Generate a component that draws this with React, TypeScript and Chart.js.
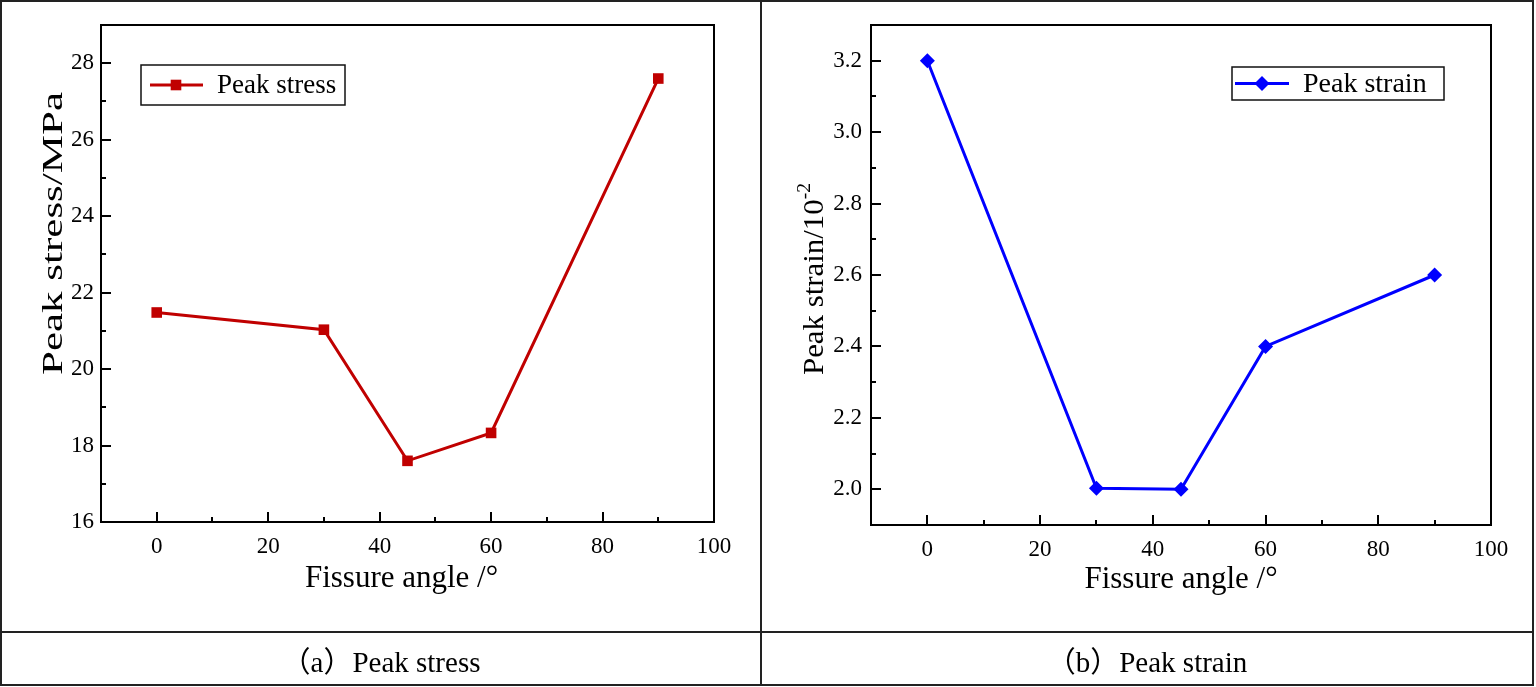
import React, { useEffect, useRef } from "react";
import { Chart, registerables } from "chart.js";

Chart.register(...registerables);

// ---------------- data ----------------
const fissureAngles = [0, 30, 45, 60, 90];
const peakStress = [21.48, 21.03, 17.6, 18.33, 27.6];
const peakStrain = [3.2, 2.003, 2.0, 2.4, 2.6];

const xTickValues = [0, 20, 40, 60, 80, 100];
const stressTickValues = [16, 18, 20, 22, 24, 26, 28];
const strainTickValues = [2.0, 2.2, 2.4, 2.6, 2.8, 3.0, 3.2];

const xRange = [-10, 100];
const stressRange = [16, 29];
const strainRange = [1.9, 3.3];

const stressLabel = "Peak stress";
const strainLabel = "Peak strain";
const xTitle = "Fissure angle /°";
const stressTitle = "Peak stress/MPa";
const strainTitle = "Peak strain/10";
const strainTitleSup = "-2";
const captions = ["（a）Peak stress", "（b）Peak strain"];

const SERIF = '"Liberation Serif", "Times New Roman", serif';
const CAPTION_FONT = '"Liberation Serif", "Noto Sans CJK SC", serif';

// ---------------- plugin: frame, inward ticks, legend, titles ----------------
function minorValues(values: number[], min: number, max: number) {
  const step = values[1] - values[0];
  const out: number[] = [];
  for (let i = -1; i < values.length; i++) {
    const v = values[0] + step * (i + 0.5);
    if (v >= min - 1e-9 && v <= max + 1e-9) out.push(v);
  }
  return out;
}

const decorPlugin = {
  id: "decor",
  afterDraw(chart: any, _args: any, opts: any) {
    const { ctx, chartArea: a } = chart;
    const xs = chart.scales.x;
    const ys = chart.scales.y;
    ctx.save();

    // inward ticks
    ctx.strokeStyle = "#000";
    ctx.lineWidth = 2;
    const xMajor = opts.xTicks as number[];
    const yMajor = opts.yTicks as number[];
    const tick = (x0: number, y0: number, x1: number, y1: number) => {
      ctx.beginPath();
      ctx.moveTo(x0, y0);
      ctx.lineTo(x1, y1);
      ctx.stroke();
    };
    xMajor.forEach((v) => {
      const p = Math.round(xs.getPixelForValue(v));
      tick(p, a.bottom, p, a.bottom - 10);
    });
    minorValues(xMajor, xs.min, xs.max).forEach((v) => {
      const p = Math.round(xs.getPixelForValue(v));
      tick(p, a.bottom, p, a.bottom - 5);
    });
    yMajor.forEach((v) => {
      const p = Math.round(ys.getPixelForValue(v));
      tick(a.left, p, a.left + 10, p);
    });
    minorValues(yMajor, ys.min, ys.max).forEach((v) => {
      const p = Math.round(ys.getPixelForValue(v));
      tick(a.left, p, a.left + 5, p);
    });

    // frame
    ctx.strokeRect(a.left, a.top, a.right - a.left, a.bottom - a.top);

    // legend
    const lg = opts.legend;
    const ds = chart.data.datasets[0];
    ctx.fillStyle = "#fff";
    ctx.fillRect(lg.x, lg.y, lg.w, lg.h);
    ctx.strokeStyle = "#111";
    ctx.lineWidth = 1.5;
    ctx.strokeRect(lg.x, lg.y, lg.w, lg.h);
    const cy = lg.y + lg.h / 2;
    ctx.strokeStyle = ds.borderColor;
    ctx.lineWidth = ds.borderWidth;
    tick(lg.lineX0, cy, lg.lineX1, cy);
    ctx.fillStyle = ds.pointBackgroundColor;
    const r = ds.pointRadius;
    if (ds.pointStyle === "rectRot") {
      ctx.beginPath();
      ctx.moveTo(lg.markerX, cy - r);
      ctx.lineTo(lg.markerX + r, cy);
      ctx.lineTo(lg.markerX, cy + r);
      ctx.lineTo(lg.markerX - r, cy);
      ctx.closePath();
      ctx.fill();
    } else {
      const h = r * Math.SQRT1_2;
      ctx.fillRect(lg.markerX - h, cy - h, 2 * h, 2 * h);
    }
    ctx.fillStyle = "#000";
    ctx.font = `${lg.fontSize}px ${SERIF}`;
    ctx.textAlign = "left";
    ctx.textBaseline = "middle";
    ctx.fillText(ds.label, lg.textX, cy + 1);

    // x title
    ctx.font = `31px ${SERIF}`;
    ctx.textAlign = "center";
    ctx.textBaseline = "alphabetic";
    ctx.fillText(opts.xTitle, (a.left + a.right) / 2 + (opts.xTitleDx || 0), opts.xTitleY);

    // y title (rotated, stretched along its direction)
    const yt = opts.yTitle;
    ctx.translate(yt.x, yt.cy);
    ctx.rotate(-Math.PI / 2);
    ctx.font = `30px ${SERIF}`;
    const mainW = ctx.measureText(yt.text).width;
    let supW = 0;
    if (yt.sup) {
      ctx.font = `19px ${SERIF}`;
      supW = ctx.measureText(yt.sup).width;
    }
    const total = mainW + supW;
    const k = yt.len / total;
    ctx.scale(k, 1);
    ctx.textAlign = "left";
    ctx.font = `30px ${SERIF}`;
    ctx.fillText(yt.text, -total / 2, 0);
    if (yt.sup) {
      ctx.font = `19px ${SERIF}`;
      ctx.fillText(yt.sup, -total / 2 + mainW, -13);
    }
    ctx.restore();
  },
};

// ---------------- chart component ----------------
type PanelProps = {
  width: number;
  height: number;
  label: string;
  values: number[];
  color: string;
  pointStyle: string;
  yRange: number[];
  yTicks: number[];
  yDecimals: number;
  yWidth: number;
  xHeight: number;
  padRight: number;
  yPad: number;
  decor: any;
};

function Panel(p: PanelProps) {
  const ref = useRef<HTMLCanvasElement | null>(null);
  useEffect(() => {
    if (!ref.current) return;
    const chart = new Chart(ref.current, {
      type: "line",
      data: {
        datasets: [
          {
            label: p.label,
            data: fissureAngles.map((x, i) => ({ x, y: p.values[i] })),
            borderColor: p.color,
            backgroundColor: p.color,
            pointBackgroundColor: p.color,
            pointBorderColor: p.color,
            pointBorderWidth: 0,
            borderWidth: 3,
            pointRadius: 7.5,
            pointHoverRadius: 7.5,
            pointStyle: p.pointStyle as any,
            tension: 0,
            fill: false,
          } as any,
        ],
      },
      options: {
        responsive: false,
        animation: false,
        devicePixelRatio: 1,
        events: [],
        layout: { padding: { top: 23, right: p.padRight, left: 0, bottom: 0 } },
        plugins: {
          legend: { display: false },
          tooltip: { enabled: false },
          decor: p.decor,
        } as any,
        scales: {
          x: {
            type: "linear",
            min: xRange[0],
            max: xRange[1],
            afterBuildTicks: (s: any) => {
              s.ticks = xTickValues.map((v) => ({ value: v }));
            },
            afterFit: (s: any) => {
              s.height = p.xHeight;
            },
            grid: { display: false, drawTicks: false, tickLength: 0 },
            border: { display: false },
            ticks: {
              autoSkip: false,
              maxRotation: 0,
              color: "#000",
              padding: 11,
              font: { family: SERIF, size: 23 },
              callback: (v: any) => String(v),
            },
          },
          y: {
            type: "linear",
            min: p.yRange[0],
            max: p.yRange[1],
            afterBuildTicks: (s: any) => {
              s.ticks = p.yTicks.map((v) => ({ value: v }));
            },
            afterFit: (s: any) => {
              s.width = p.yWidth;
            },
            grid: { display: false, drawTicks: false, tickLength: 0 },
            border: { display: false },
            ticks: {
              color: "#000",
              padding: p.yPad,
              font: { family: SERIF, size: 23 },
              callback: (v: any) => Number(v).toFixed(p.yDecimals),
            },
          },
        },
      },
      plugins: [decorPlugin as any],
    });
    return () => chart.destroy();
  }, []);
  return <canvas ref={ref} width={p.width} height={p.height} style={{ display: "block" }} />;
}

export default function App() {
  const line = "#222";
  return (
    <div style={{ position: "fixed", left: 0, top: 0, width: 1536, height: 687, background: "#fff", overflow: "hidden" }}>
      <div style={{ position: "absolute", left: 2, top: 2 }}>
        <Panel
          width={758}
          height={629}
          label={stressLabel}
          values={peakStress}
          color="#C00000"
          pointStyle="rect"
          yRange={stressRange}
          yTicks={stressTickValues}
          yDecimals={0}
          yWidth={99}
          xHeight={109}
          padRight={46}
          yPad={7}
          decor={{
            xTicks: xTickValues,
            yTicks: stressTickValues,
            legend: { x: 139, y: 63, w: 204, h: 40, lineX0: 148, lineX1: 201, markerX: 174, textX: 215, fontSize: 27 },
            xTitle: xTitle,
            xTitleY: 585,
            xTitleDx: -6,
            yTitle: { text: stressTitle, sup: "", x: 60, cy: 231.5, len: 283 },
          }}
        />
      </div>
      <div style={{ position: "absolute", left: 762, top: 2 }}>
        <Panel
          width={770}
          height={629}
          label={strainLabel}
          values={peakStrain}
          color="#0000FF"
          pointStyle="rectRot"
          yRange={strainRange}
          yTicks={strainTickValues}
          yDecimals={1}
          yWidth={109}
          xHeight={106}
          padRight={41}
          yPad={9}
          decor={{
            xTicks: xTickValues,
            yTicks: strainTickValues,
            legend: { x: 470, y: 65, w: 212, h: 33, lineX0: 473, lineX1: 527, markerX: 500, textX: 541, fontSize: 28 },
            xTitle: xTitle,
            xTitleY: 586,
            xTitleDx: 0,
            yTitle: { text: strainTitle, sup: strainTitleSup, x: 61, cy: 277, len: 192 },
          }}
        />
      </div>
      {/* table lines */}
      <div style={{ position: "absolute", left: 0, top: 0, width: 1534, height: 686, border: `2px solid ${line}`, boxSizing: "border-box" }} />
      <div style={{ position: "absolute", left: 760, top: 0, width: 2, height: 686, background: line }} />
      <div style={{ position: "absolute", left: 0, top: 631, width: 1534, height: 2, background: line }} />
      {captions.map((c, i) => (
        <div
          key={i}
          style={{
            position: "absolute",
            left: i === 0 ? 2 : 762,
            width: i === 0 ? 758 : 770,
            top: 633,
            height: 51,
            display: "flex",
            alignItems: "center",
            justifyContent: "center",
            fontFamily: CAPTION_FONT,
            fontSize: 29,
            color: "#000",
            whiteSpace: "pre",
          }}
        >
          {c}
        </div>
      ))}
    </div>
  );
}
